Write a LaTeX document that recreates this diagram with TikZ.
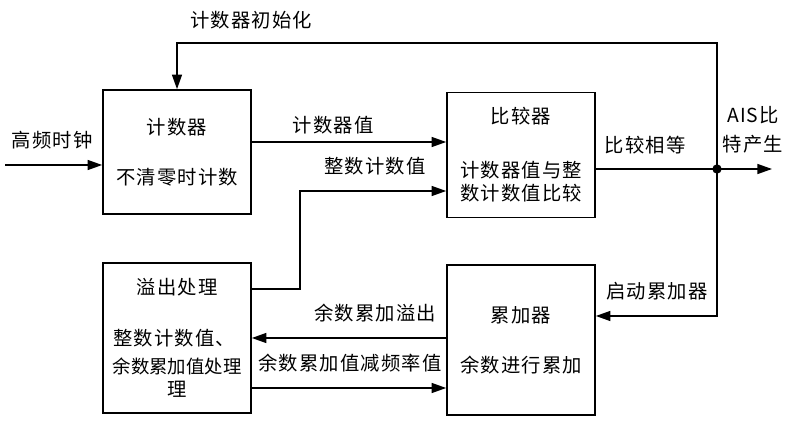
\documentclass[tikz,border=0pt]{standalone}
\usepackage{fontspec}
\newfontfamily\cjk[LetterSpace=6]{Noto Sans CJK SC}
\newfontfamily\cjknarrow{Noto Sans CJK SC}
\usetikzlibrary{arrows.meta,calc}
\begin{document}
\begin{tikzpicture}[x=0.75pt,y=-0.75pt,
  box/.style={draw,line width=1.2pt,inner sep=0pt},
  lbl/.style={font=\cjk\fontsize{14.5pt}{17pt}\selectfont,inner sep=0pt,anchor=center},
  lbln/.style={font=\cjknarrow\fontsize{13.8pt}{17pt}\selectfont,inner sep=0pt,anchor=center},
  conn/.style={line width=1.1pt},
  arr/.style={conn,-{Triangle[length=11pt,width=7.5pt]}}]
\useasboundingbox (0,0) rectangle (800,427);
% boxes
\node[box,minimum width=111pt,minimum height=93pt] (cnt) at (177,152) {};
\node[box,minimum width=111pt,minimum height=93.75pt] (cmp) at (521,155) {};
\node[box,minimum width=111pt,minimum height=112.5pt] (ov) at (177,338) {};
\node[box,minimum width=111pt,minimum height=112.5pt] (acc) at (521,340) {};
% box texts
\node[lbl] (t1) at (177,127) {计数器};
\node[lbl] (t2) at (177,177) {不清零时计数};
\node[lbl] (t3) at (521,116) {比较器};
\node[lbl] (t4) at (521,170) {计数器值与整};
\node[lbl] (t5) at (521,193) {数计数值比较};
\node[lbl] (t6) at (177,287) {溢出处理};
\node[lbl] (t7) at (174,338) {整数计数值、};
\node[lbln] (t8) at (177,366) {余数累加值处理};
\node[lbl] (t9) at (177,389) {理};
\node[lbl] (t10) at (521,315) {累加器};
\node[lbl] (t11) at (521,365) {余数进行累加};
% edge labels
\node[lbl] (l1) at (251,20) {计数器初始化};
\node[lbl] (l2) at (52,140) {高频时钟};
\node[lbl] (l3) at (333,125) {计数器值};
\node[lbl] (l4) at (375,166) {整数计数值};
\node[lbl] (l5) at (645,145) {比较相等};
\node[lbl] (l6) at (753,115) {AIS比};
\node[lbl] (l7) at (753,144) {特产生};
\node[lbl] (l8) at (657,291) {启动累加器};
\node[lbl] (l9) at (375,313) {余数累加溢出};
\node[lbl] (l10) at (350,363) {余数累加值减频率值};
% coordinates
\coordinate (j) at (717,169);
\coordinate (top) at (717,43);
\coordinate (in) at (5,165);
\coordinate (out) at (772,169);
\coordinate (c1) at ([yshift=7.5pt]cnt.east);
\coordinate (o1) at ([yshift=36.75pt]ov.east);
\coordinate (k) at (300,191);
\coordinate (c2) at ([yshift=-27pt]cmp.west);
\coordinate (a1) at ([yshift=18pt]acc.east);
\coordinate (a2) at ([yshift=1.5pt]acc.west);
\coordinate (o2) at ([yshift=-37.5pt]ov.east);
% connectors
\draw[arr] (in) -- (in -| cnt.west);
\draw[arr] (j) -- (top) -| (cnt.north);
\draw[arr] (c1) -- (c1 -| cmp.west);
\draw[arr] (o1) -| (k) -- (c2);
\draw[conn] (cmp.east |- j) -- (j);
\draw[arr] (j) -- (out);
\draw[arr] (j) |- (a1);
\draw[arr] (a2) -- (a2 -| ov.east);
\draw[arr] (o2) -- (o2 -| acc.west);
\fill (j) circle (3.5pt);
\end{tikzpicture}
\end{document}
